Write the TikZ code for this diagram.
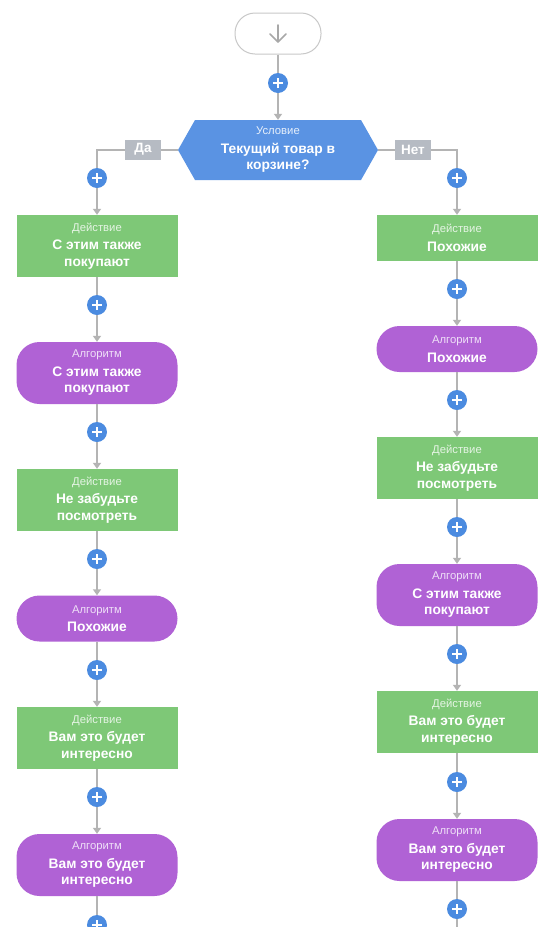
\documentclass[tikz,border=0pt]{standalone}
\usepackage{fontspec}
\setmainfont{Liberation Sans}
\usetikzlibrary{arrows.meta}
\definecolor{act}{HTML}{7EC877}
\definecolor{alg}{HTML}{B062D5}
\definecolor{condc}{HTML}{5A93E3}
\definecolor{plusb}{HTML}{4B8BE0}
\definecolor{lineg}{HTML}{B4B4B4}
\definecolor{labg}{HTML}{B6BBC3}
\definecolor{startb}{HTML}{C8C8C8}
\definecolor{iconc}{HTML}{A8A8A8}
\newcommand\boxtext[3]{{\fontsize{11.3}{13}\selectfont\mdseries\color{#1}#2}\\[2pt]#3}
\tikzset{
  conn/.style={draw=lineg, line width=1.4pt},
  arr/.style={conn, -{Triangle[width=8pt,length=6pt]}},
  basebox/.style={rectangle, minimum width=161pt, inner sep=0pt, align=center, text=white,
    font=\fontsize{13.8}{16.5}\selectfont\bfseries},
  actbox/.style={basebox, fill=act},
  algbox/.style={basebox, fill=alg, rounded corners=23pt},
  two/.style={minimum height=62pt},
  one/.style={minimum height=46pt},
  plusbtn/.style={circle, fill=plusb, minimum size=20pt, inner sep=0pt,
    path picture={\draw[white,line width=2pt]
      ([xshift=-5pt]path picture bounding box.center) -- ([xshift=5pt]path picture bounding box.center)
      ([yshift=-5pt]path picture bounding box.center) -- ([yshift=5pt]path picture bounding box.center);}},
  branchlab/.style={rectangle, fill=labg, text=white, minimum width=36pt, minimum height=20pt,
    inner sep=0pt, font=\fontsize{13.5}{15}\selectfont\bfseries},
  condbox/.style={rectangle, minimum width=200pt, minimum height=60pt, inner sep=0pt,
    align=center, text=white, font=\fontsize{13.8}{16.5}\selectfont\bfseries,
    path picture={\fill[condc] (path picture bounding box.west)
      -- ([xshift=17pt]path picture bounding box.north west)
      -- ([xshift=-17pt]path picture bounding box.north east)
      -- (path picture bounding box.east)
      -- ([xshift=-17pt]path picture bounding box.south east)
      -- ([xshift=17pt]path picture bounding box.south west) -- cycle;}},
  startbox/.style={rectangle, draw=startb, line width=1pt, fill=white, rounded corners=20pt,
    minimum width=86pt, minimum height=41pt, inner sep=0pt},
}
\begin{document}
\begin{tikzpicture}[x=1pt,y=-1pt]
\useasboundingbox[fill=white] (0,0) rectangle (554,927);

% start
\node[startbox] (start) at (278,33.5) {};
\draw[iconc, line width=1.6pt, line cap=round, line join=round]
  ([yshift=8.5pt]start.center) -- ([yshift=-8.5pt]start.center)
  ([xshift=-8pt,yshift=-0.5pt]start.center) -- ([yshift=-8.5pt]start.center) -- ([xshift=8pt,yshift=-0.5pt]start.center);
\node[plusbtn] (p0) at (278,83) {};
\node[condbox] (cond) at (278,150) {\boxtext{white!85!condc}{Условие}{Текущий товар в\\корзине?}};

% left column
\node[plusbtn] (pL1) at (97,178) {};
\node[actbox,two] (L1) at (97,246) {\boxtext{white!80!act}{Действие}{С этим также\\покупают}};
\node[plusbtn] (pL2) at (97,305) {};
\node[algbox,two] (L2) at (97,373) {\boxtext{white!80!alg}{Алгоритм}{С этим также\\покупают}};
\node[plusbtn] (pL3) at (97,432) {};
\node[actbox,two] (L3) at (97,500) {\boxtext{white!80!act}{Действие}{Не забудьте\\посмотреть}};
\node[plusbtn] (pL4) at (97,559) {};
\node[algbox,one] (L4) at (97,618.5) {\boxtext{white!80!alg}{Алгоритм}{Похожие}};
\node[plusbtn] (pL5) at (97,670) {};
\node[actbox,two] (L5) at (97,738) {\boxtext{white!80!act}{Действие}{Вам это будет\\интересно}};
\node[plusbtn] (pL6) at (97,797) {};
\node[algbox,two] (L6) at (97,865) {\boxtext{white!80!alg}{Алгоритм}{Вам это будет\\интересно}};
\node[plusbtn] (pL7) at (97,925) {};
\coordinate (endL) at (97,945);

% right column
\node[plusbtn] (pR1) at (457,178) {};
\node[actbox,one] (R1) at (457,238) {\boxtext{white!80!act}{Действие}{Похожие}};
\node[plusbtn] (pR2) at (457,289) {};
\node[algbox,one] (R2) at (457,349) {\boxtext{white!80!alg}{Алгоритм}{Похожие}};
\node[plusbtn] (pR3) at (457,400) {};
\node[actbox,two] (R3) at (457,468) {\boxtext{white!80!act}{Действие}{Не забудьте\\посмотреть}};
\node[plusbtn] (pR4) at (457,527) {};
\node[algbox,two] (R4) at (457,595) {\boxtext{white!80!alg}{Алгоритм}{С этим также\\покупают}};
\node[plusbtn] (pR5) at (457,654) {};
\node[actbox,two] (R5) at (457,722) {\boxtext{white!80!act}{Действие}{Вам это будет\\интересно}};
\node[plusbtn] (pR6) at (457,782) {};
\node[algbox,two] (R6) at (457,850) {\boxtext{white!80!alg}{Алгоритм}{Вам это будет\\интересно}};
\node[plusbtn] (pR7) at (457,909) {};
\coordinate (endR) at (457,945);

% connectors
\draw[conn] (start) -- (p0);
\draw[arr] (p0) -- (cond);
\draw[conn] (cond.west) -| (pL1);
\draw[conn] (cond.east) -| (pR1);
\foreach \a/\b/\c in {pL1/L1/pL2, pL2/L2/pL3, pL3/L3/pL4, pL4/L4/pL5, pL5/L5/pL6, pL6/L6/pL7,
                      pR1/R1/pR2, pR2/R2/pR3, pR3/R3/pR4, pR4/R4/pR5, pR5/R5/pR6, pR6/R6/pR7}{
  \draw[arr] (\a) -- (\b);
  \draw[conn] (\b) -- (\c);
}
\draw[conn] (pL7) -- (endL);
\draw[conn] (pR7) -- (endR);

% branch labels
\node[branchlab] (da) at (143,149.5) {Да};
\node[branchlab] (net) at (413,149.5) {Нет};
\end{tikzpicture}
\end{document}
